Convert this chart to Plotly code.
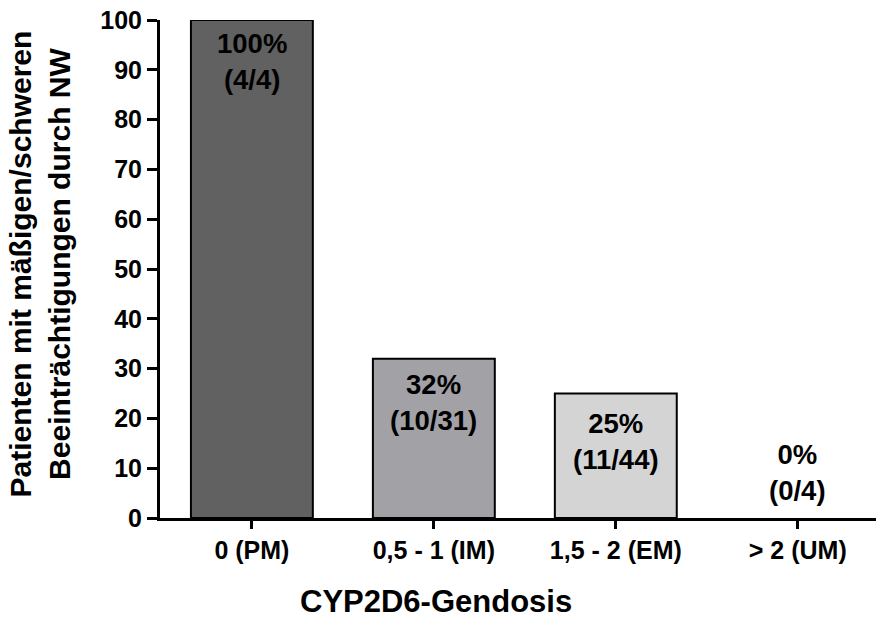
import plotly.graph_objects as go

# CYP2D6 gene dose groups and share of patients with moderate/severe side effects
categories = ["0 (PM)", "0,5 - 1 (IM)", "1,5 - 2 (EM)", "> 2 (UM)"]
percent = [100, 32, 25, 0]
affected = [4, 10, 11, 0]
totals = [4, 31, 44, 4]
bar_colors = ["#616161", "#a2a1a6", "#d4d4d4", "#ffffff"]

FONT = "Liberation Sans, Arial, sans-serif"
BLACK = "#000000"

# vertical nudge (px) of each value label relative to its bar top
label_shift = [-6, -8, -12, 10]

fig = go.Figure()
fig.add_trace(go.Bar(
    x=categories,
    y=percent,
    marker=dict(
        color=bar_colors,
        line=dict(color=BLACK, width=[2 if p > 0 else 0 for p in percent]),
    ),
    width=0.67,
    hoverinfo="skip",
))

# value labels: inside the top of a bar, or above the baseline for empty bars
for cat, p, a, t, dy in zip(categories, percent, affected, totals, label_shift):
    inside = p > 0
    fig.add_annotation(
        x=cat, y=p,
        xref="x", yref="y",
        text=f"{p}%<br>({a}/{t})",
        showarrow=False,
        yanchor="top" if inside else "bottom",
        yshift=dy,
        font=dict(family=FONT, size=27.5, color=BLACK, weight="bold"),
    )

# y axis title (two lines, rotated)
fig.add_annotation(
    x=-0.167, y=0.51, xref="paper", yref="paper",
    text="Patienten mit mäßigen/schweren<br>Beeinträchtigungen durch NW",
    textangle=-90, showarrow=False,
    xanchor="center", yanchor="middle",
    font=dict(family=FONT, size=30, color=BLACK, weight="bold"),
)

# x axis title
fig.add_annotation(
    x=0.3855, y=-0.167, xref="paper", yref="paper",
    text="CYP2D6-Gendosis",
    showarrow=False, xanchor="center", yanchor="middle",
    font=dict(family=FONT, size=31, color=BLACK, weight="bold"),
)

fig.update_layout(
    width=876, height=638,
    margin=dict(l=160, r=0, t=20, b=120),
    paper_bgcolor="white", plot_bgcolor="white",
    showlegend=False,
    font=dict(family=FONT, color=BLACK),
    xaxis=dict(
        range=[-0.505, 3.43],
        showline=True, linecolor=BLACK, linewidth=3,
        ticks="outside", ticklen=8, tickwidth=3, tickcolor=BLACK,
        tickfont=dict(family=FONT, size=25, color=BLACK, weight="bold"),
        showgrid=False, zeroline=False, fixedrange=True,
    ),
    yaxis=dict(
        range=[0, 100], dtick=10, tick0=0,
        showline=True, linecolor=BLACK, linewidth=3,
        ticks="outside", ticklen=10, tickwidth=3, tickcolor=BLACK,
        tickfont=dict(family=FONT, size=25, color=BLACK, weight="bold"),
        showgrid=False, zeroline=False, fixedrange=True,
    ),
)

fig.write_html("out.html", config={"displayModeBar": False})
